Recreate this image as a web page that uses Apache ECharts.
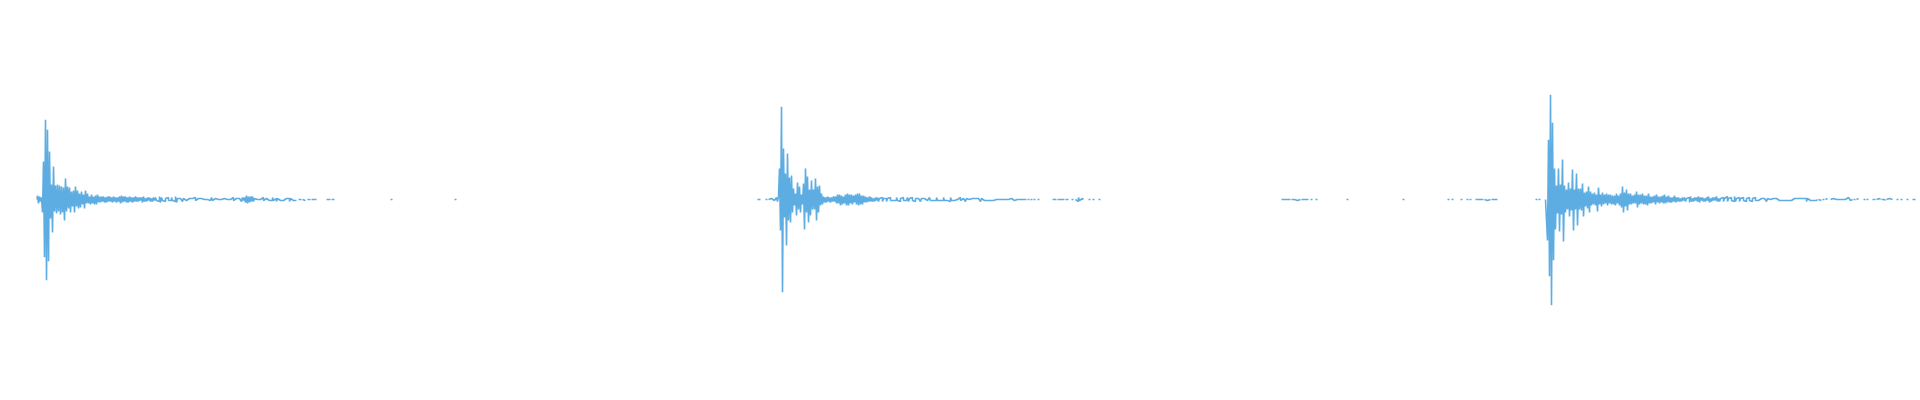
<!DOCTYPE html>
<html>
<head>
<meta charset="utf-8">
<script src="https://cdn.jsdelivr.net/npm/echarts@6/dist/echarts.min.js"></script>
<style>
html,body{margin:0;padding:0;background:#ffffff;}
#chart{width:1920px;height:400px;}
</style>
</head>
<body>
<div id="chart"></div>
<script>
const _ = null;

// Amplitude samples, one per step
const event1 = [
0,4,-4,3,-2,2,-13,38,-58,80,
-81,70,-62,48,-19,15,-33,33,-12,14,
-14,15,-12,14,-15,13,-13,12,-21,21,
-12,13,-9,12,-13,8,-7,9,-13,13,
-7,9,-9,6,-8,8,-5,5,-9,9,
-4,6,-4,3,-5,5,-4,3,-5,4,
-5,5,-3,
3,-3,3,-2,3,-3,2,-3,3,-2,
3,-2,2,-3,3,-2,2,-3,2,-2,
3,-4,4,-3,3,-2,3,-3,2,-3,
3,-2,2,-3,2,-2,3,-2,2,-2,
2,-1,2,-3,3,-2,1,-2,2,-1,
2,-2,1,-2,2,-1,2,-1,1,-2,
3,-3,2,-1,1,-2,1,-1,2,-1,
1,-1,2,-1,1,-2,3,-3,1,-1,
1,-1,0,-2,1,0,-1,1,-2,1,
0,-1,1,0,-1,2,-1,0,1,-1,
0,1,-1,0,0,1,-1,0,1,0,
-1,0,2,-1,0,1,-1,0,0,1,
-1,0,1,-2,1,0,-1,0,1,-1,
0,1,-1,2,-1,0,1,-1,0,1,
-1,1,-2,2,-1,2,-3,4,-4,3,
-3,3,-2,3,-2,1,-1,0,1,-1,
0,1,-1,2,-1,0,1,-1,2,-1,
0,1,-1,2,-1,0,1,-2,1,0,
-1,1,0,-1,1,-2,1,0,-1,1,
-2,1,0,-1,1,0,-1,_,_,0,
1,0,_,0,0,-1,_,_,0,1,
0,_,0,1,0,-1,0,_,_,_
];

const quiet1 = [
_,_,_,_,_,_,_,0,0,0,
0,_,0,0,0,_,_,_,_,_,
_,_,_,_,_,_,_,_,_,_,
_,_,_,_,_,_,_,_,_,_,
_,_,_,_,_,_,_,_,_,_,
_,_,_,_,_,_,_,_,_,_,
_,_,_,_,_,_,_,_,_,_,
_,0,0,_,_,_,_,_,_,_,
_,_,_,_,_,_,_,_,_,_,
_,_,_,_,_,_,_,_,_,_,
_,_,_,_,_,_,_,_,_,_,
_,_,_,_,_,_,_,_,_,_,
_,_,_,_,_,_,_,_,_,_,
_,_,_,_,_,0,0,_,_,_,
_,_,_,_,_,_,_,_,_,_,
_,_,_,_,_,_,_,_,_,_,
_,_,_,_,_,_,_,_,_,_,
_,_,_,_,_,_,_,_,_,_,
_,_,_,_,_,_,_,_,_,_,
_,_,_,_,_,_,_,_,_,_,
_,_,_,_,_,_,_,_,_,_,
_,_,_,_,_,_,_,_,_,_,
_,_,_,_,_,_,_,_,_,_,
_,_,_,_,_,_,_,_,_,_,
_,_,_,_,_,_,_,_,_,_,
_,_,_,_,_,_,_,_,_,_,
_,_,_,_,_,_,_,_,_,_,
_,_,_,_,_,_,_,_,_,_,
_,_,_,_,_,_,_,_,_,_,
_,_,_,_,_,_,_,_,_,_,
_,_,_,_,_,_,_,_,_,_,
_,_,_,_,_,_,_,_,_,_,
_,_,_,_,_,_,_,_,_,_,
_,_,_,_,_,_,_,_,_,_,
_,_,_,_,_,_,_,_,_,_,
_,_,_,_,_,_,_,_,_,_,
_,_,_,_,_,_,_,_,_,_,
_,_,_,_,_,_,_,_,_,_,
_,_,_,_,_,_,_,_,_,_,
_,_,_,_,_,_,_,_,_,_,
_,_,_,_,_,_,_,_,_,_,
_,_,_,_,_,_,_,_,_,_,
_,_,_,_,_,_,_,_,_,_,
_,_,_,_,_,_,_,_
];

const event2 = [
0,0,0,_,_,_,_,_,0,0,
_,0,0,1,-1,2,-1,1,-2,2,
-2,3,31,-31,93,-93,51,-18,26,-46,
46,-21,22,-23,24,-13,11,-6,6,-16,
17,-10,13,-13,5,-5,16,-30,31,-13,
23,-23,10,-16,19,-10,10,-10,21,-21,
13,-13,14,-6,6,-5,3,-3,2,-3,
3,-2,2,-3,2,-2,3,-2,3,-4,
5,-4,5,-6,4,-5,3,-4,5,-6,
6,-6,5,-4,5,-5,4,-3,5,-5,
6,-6,6,-5,4,-5,4,-3,3,-3,
2,-2,3,-2,2,-2,1,-2,2,-1,
2,-2,1,-1,2,-2,1,-1,1,-2,
1,-1,2,-1,1,-1,0,1,-1,2,
-1,1,-2,1,-1,2,-1,1,-1,0,
2,-2,1,-1,2,-1,1,-2,1,-1,
1,-1,2,-2,1,-1,1,-1,2,-1,
1,-2,2,-1,1,-1,0,1,-1,2,
-1,1,-1,0,1,-1,2,-1,1,-1,
0,1,-2,2,-1,1,-1,1,-1,0,
1,-1,2,-1,0,1,-1,1,-2,1,
-1,0,1,-1,1,-1,0,1,-1,0,
1,-1,1,-2,1,0,-1,1,0,-1,
1,0,-1,1,0,-1,1,-1,0,1,
-1,0,1,-1,0,0,1,0,0,-1,
0,0,0,1,0,0,-1,0,0,0,
1,0,0,-1,0,0,0,1,0,_,
0,0,_,0,0,_,0,0,_,_,
0,0,_,_,_,_,_,_,_,_,
_,_,_,_,_,0,0,0,0,_,
0,0,0,1,-1,0,0,_,0,0,
0,_,_,_,0,0,_,_,0,1,
-2,2,-1,0,1,0,_,_,_,_,
_,0,0,_,_,0,0,_,_,_,
_,0,0,_,_,_,_,_
];

const quiet2 = [
_,_,_,_,_,_,_,_,_,_,
_,_,_,_,_,_,_,_,_,_,
_,_,_,_,_,_,_,_,_,_,
_,_,_,_,_,_,_,_,_,_,
_,_,_,_,_,_,_,_,_,_,
_,_,_,_,_,_,_,_,_,_,
_,_,_,_,_,_,_,_,_,_,
_,_,_,_,_,_,_,_,_,_,
_,_,_,_,_,_,_,_,_,_,
_,_,_,_,_,_,_,_,_,_,
_,_,_,_,_,_,_,_,_,_,
_,_,_,_,_,_,_,_,_,_,
_,_,_,_,_,_,_,_,_,_,
_,_,_,_,_,_,_,_,_,_,
_,_,_,_,_,_,_,_,_,_,
_,_,_,_,_,_,_,_,_,_,
_,_,_,_,_,_,_,_,_,_,
_,_,_,_,_,_,0,0,0,0,
0,0,0,0,0,_,0,0,0,0,
1,-1,0,0,0,_,0,0,0,0,
0,0,0,_,_,0,0,_,_,_,
0,0,_,_,_,_,_,_,_,_,
_,_,_,_,_,_,_,_,_,_,
_,_,_,_,_,_,_,_,_,_,
_,0,0,_,_,_,_,_,_,_,
_,_,_,_,_,_,_,_,_,_,
_,_,_,_,_,_,_,_,_,_,
_,_,_,_,_,_,_,_,_,_,
_,_,_,_,_,_,_,_,_,_,
_,_,_,_,_,_,_,0,0,_,
_,_,_,_,_,_,_,_,_,_,
_,_,_,_,_,_,_,_,_,_,
_,_,_,_,_,_,_,_,_,_,
_,_,_,_,_,_,_,_,_,_,
_,_,0,0,_,_,0,0,_,_,
_,_,_,_,_,0,0,_,_,_,
_,0,0,_,0,0,_,_,_,_,
0,0,0,0,0,0,0,0,_,0,
1,-1,0,0,0,_,0,0,0,0,
0,0,_,_,_,_,_,_,_,_,
_,_,_,_,_,_,_,_,_,_,
_,_,_,_,_,_,_,_,_,_,
_,_,_,_,_,_,_,_,_,_,
0,0,_,0,0,_,_,_,_,_
];

const event3 = [
0,2,-41,60,-77,105,-106,77,-61,31,
-30,14,-14,31,-32,15,-15,40,-42,14,
-13,10,-10,17,-17,11,-11,30,-31,10,
-10,26,-26,11,-10,11,-11,16,-17,7,
-7,8,-9,13,-13,8,-6,6,-5,7,
-6,5,-12,12,-5,5,-7,7,-5,5,
-4,6,-6,5,-4,5,-5,4,-5,4,
-6,6,-4,4,-6,6,-8,13,-13,7,
-7,10,-11,6,-5,6,-5,4,-4,5,
-4,8,-8,5,-5,5,-4,6,-5,4,
-5,4,-6,6,-4,3,-4,3,-3,4,
-5,5,-3,3,-4,3,-3,4,-4,5,
-4,3,-3,4,-3,2,-3,2,-2,4,
-3,2,-2,2,
-2,1,-2,2,-1,2,-2,1,-1,2,
-3,3,-2,1,-2,2,-1,2,-2,3,
-3,2,-1,2,-2,1,-2,2,-1,3,
-3,1,-2,2,-1,2,-1,3,-2,1,
-2,1,-1,2,-2,1,-1,3,-2,1,
-1,2,-1,1,-2,3,-2,1,-1,2,
-2,1,-1,2,-1,1,-2,1,-1,2,
-1,1,-2,1,-1,2,-1,1,-1,1,
-1,1,-1,0,1,-1,1,-2,1,-1,
0,1,-1,1,0,-1,1,-1,2,-1,
0,1,-1,0,1,-1,0,1,-1,0,
1,-1,1,-2,1,0,-1,1,0,-1,
1,0,-1,1,0,-1,1,-2,1,0,
-1,1,0,-1,0,1,-1,0,_,0,
0,-1,_,0,0,_,0,1,_,_,
_,0,0,1,-1,1,0,-1,0,0,
1,0,0,-1,0,0,1,-2,2,0,
0,-1,0,_,0,0,_,0,1,_,
_,_,_,_,0,0,_,0,0,_,
_,_,_,0,0,0,_,0,0,1,
0,_,0,0,0,-1,_,0,-1,1,
0,0,0,_,_,_,_,0,0,_,
_,0,0,_,_,_,_,0,0,_,
_,_,_,0,0,0,0
];

const amplitude = [...event1, ...quiet1, ...event2, ...quiet2, ...event3];
const sampleIndex = amplitude.map((v, i) => i);

const chart = echarts.init(document.getElementById('chart'), null, {renderer: 'canvas'});
chart.setOption({
  backgroundColor: '#ffffff',
  animation: false,
  grid: {left: 37, right: 4, top: 0, bottom: 1, containLabel: false},
  xAxis: {
    type: 'category',
    data: sampleIndex,
    boundaryGap: false,
    show: false
  },
  yAxis: {
    type: 'value',
    min: -200,
    max: 200,
    show: false,
    splitLine: {show: false}
  },
  series: [{
    type: 'line',
    data: amplitude,
    step: 'middle',
    showSymbol: false,
    symbol: 'none',
    connectNulls: false,
    lineStyle: {color: '#5dade2', width: 1.6},
    itemStyle: {color: '#5dade2'}
  }]
});
</script>
</body>
</html>
